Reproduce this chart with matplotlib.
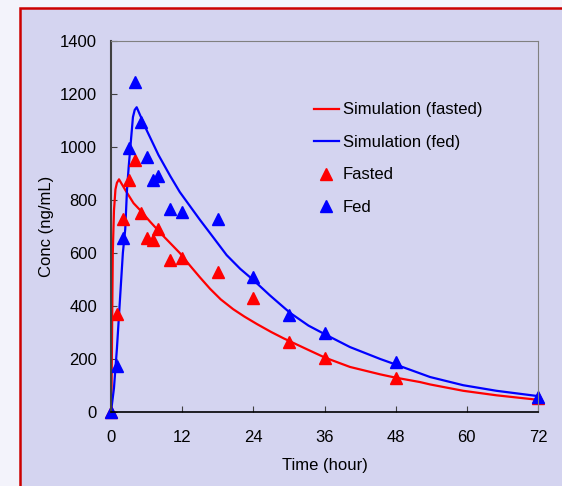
import numpy as np
import matplotlib.pyplot as plt
from matplotlib.patches import Rectangle

plt.rcParams['font.family'] = ['Liberation Sans', 'DejaVu Sans']

# observed data
time_obs = [0, 1, 2, 3, 4, 5, 6, 7, 8, 10, 12, 18, 24, 30, 36, 48, 72]
fasted_obs = [0, 370, 730, 875, 950, 750, 657, 650, 690, 575, 580, 528, 430, 264, 204, 128, 53]
fed_obs = [0, 174, 657, 996, 1245, 1094, 962, 876, 890, 766, 755, 728, 510, 366, 298, 189, 57]

# simulated curves
sim_fasted_t = [0, 0.1, 0.2, 0.3, 0.5, 0.75, 1.0, 1.35, 2.4, 3.8, 4.9, 6.6, 9.0, 11.6, 13.3, 15.0,
                16.7, 18.5, 20.6, 22.5, 24.6, 27.0, 29.1, 33.3, 36.1, 40.3, 45.4, 47.9, 52.1,
                53.8, 59.4, 65.0, 72.0]
sim_fasted_c = [0, 100, 350, 600, 760, 840, 865, 878, 838, 788, 762, 718, 660, 600, 553, 508,
                465, 425, 388, 360, 332, 302, 278, 234, 205, 170, 142, 130, 113,
                104, 80, 63, 46]
sim_fed_t = [0, 0.5, 1.0, 1.5, 2.0, 2.4, 2.7, 3.0, 3.7, 4.0, 4.33, 6.0, 8.0, 10.0, 11.6, 13.8,
             15.0, 16.7, 19.5, 21.8, 24.0, 26.8, 30.2, 33.3, 36.1, 40.3, 45.4, 47.9, 53.8,
             59.4, 65.0, 72.0]
sim_fed_c = [0, 90, 240, 420, 600, 690, 840, 930, 1113, 1140, 1150, 1064, 970, 890, 830, 762,
             725, 675, 592, 540, 498, 440, 374, 326, 293, 245, 200, 180, 132,
             101, 80, 60]

x_ticks = [0, 12, 24, 36, 48, 60, 72]
y_ticks = [0, 200, 400, 600, 800, 1000, 1200, 1400]

bg = '#D4D4F0'
fig = plt.figure(figsize=(5.62, 4.86), dpi=100)
fig.patch.set_facecolor('#F3F3FB')
frame = Rectangle((19.5 / 562, -0.05), 1.0, 1 - 8.5 / 486 + 0.05,
                  transform=fig.transFigure, facecolor=bg,
                  edgecolor='#CC0000', linewidth=1.8, zorder=-10)
fig.add_artist(frame)

ax = fig.add_axes([111 / 562, 1 - 412 / 486, 427 / 562, 371 / 486])
ax.set_facecolor(bg)

ax.plot(sim_fasted_t, sim_fasted_c, color='#FF0000', lw=1.6, label='Simulation (fasted)')
ax.plot(sim_fed_t, sim_fed_c, color='#0000FF', lw=1.6, label='Simulation (fed)')
ax.plot(time_obs, fasted_obs, '^', color='#FF0000', ms=8, ls='none', label='Fasted', clip_on=False)
ax.plot(time_obs, fed_obs, '^', color='#0000FF', ms=8, ls='none', label='Fed', clip_on=False)

ax.set_xlim(0, 72)
ax.set_ylim(0, 1400)
ax.set_xticks(x_ticks)
ax.set_yticks(y_ticks)
ax.tick_params(direction='in', length=4, labelsize=12, color='#404040')
ax.tick_params(axis='x', pad=13)
ax.tick_params(axis='y', pad=10)
ax.set_xlabel('Time (hour)', fontsize=12, labelpad=9)
ax.set_ylabel('Conc (ng/mL)', fontsize=12, labelpad=4)

ax.spines['top'].set_color('#808080')
ax.spines['right'].set_color('#808080')
ax.spines['left'].set_color('#404040')
ax.spines['left'].set_linewidth(1.5)
ax.spines['bottom'].set_color('#000000')
ax.spines['bottom'].set_linewidth(1.2)

ax.legend(loc='upper left', bbox_to_anchor=(0.44, 0.875), frameon=False, fontsize=12,
          handlelength=1.5, handletextpad=0.25, labelspacing=1.05, numpoints=1)

fig.savefig('out.png', dpi=100, facecolor=fig.get_facecolor())
